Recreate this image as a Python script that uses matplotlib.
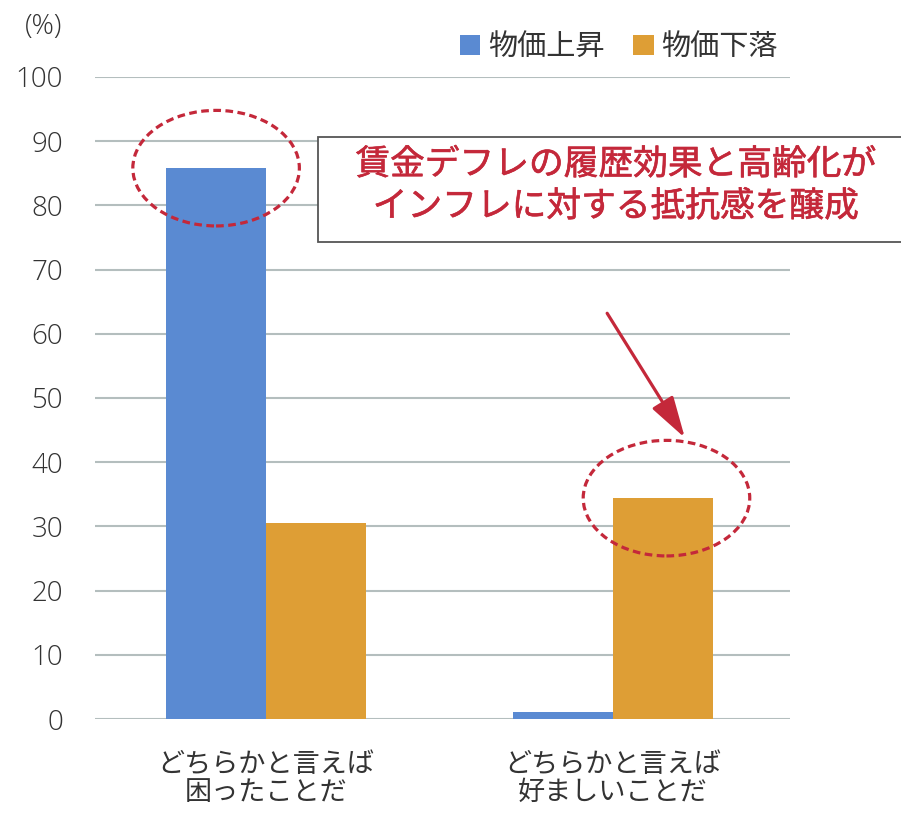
import matplotlib
matplotlib.use('Agg')
import matplotlib.pyplot as plt
import matplotlib.patheffects as pe
from matplotlib.patches import Ellipse, Rectangle, Patch
import numpy as np

plt.rcParams['font.family'] = ['Noto Sans CJK JP', 'DejaVu Sans']

# data
categories = ['どちらかと言えば\n困ったことだ', 'どちらかと言えば\n好ましいことだ']
series_names = ['物価上昇', '物価下落']
rise_values = [85.8, 1.1]
fall_values = [30.5, 34.4]
y_ticks = [0, 10, 20, 30, 40, 50, 60, 70, 80, 90, 100]
callout_lines = ['賃金デフレの履歴効果と高齢化が', 'インフレに対する抵抗感を醸成']
unit_label = '(%)'

BLUE = '#5a8ad2'
ORANGE = '#de9e35'
RED = '#c4283a'
TEXT = '#333333'
GRID = '#b4bebe'

W, H = 901, 814
fig = plt.figure(figsize=(W / 100, H / 100), dpi=100)
ax = fig.add_axes([95 / W, 1 - 719 / H, (790 - 95) / W, (719 - 77) / H])

x = np.arange(len(categories))
bw = 0.288
ax.bar(x - bw / 2, rise_values, bw, color=BLUE, zorder=2)
ax.bar(x + bw / 2, fall_values, bw, color=ORANGE, zorder=2)

ax.set_ylim(0, 100)
ax.set_xlim(-0.493, 1.51)
ax.set_yticks(y_ticks)
ax.yaxis.grid(True, color=GRID, lw=1.5)
ax.set_axisbelow(True)
for s in ax.spines.values():
    s.set_visible(False)
ax.tick_params(axis='y', length=0, colors=TEXT, pad=23)
for lbl in ax.get_yticklabels():
    lbl.set_fontfamily(['Open Sans', 'DejaVu Sans'])
    lbl.set_fontweight('light')
    lbl.set_fontsize(20)
ax.set_xticks(x)
ax.set_xticklabels(categories, fontsize=19.5, color=TEXT, linespacing=1.05)
ax.tick_params(axis='x', length=0, pad=23)

# dashed ellipses highlighting the first rise bar and second fall bar
ell_w, ell_h = 0.48, 18.0
for cx, cy in [(x[0] - bw / 2, rise_values[0]), (x[1] + bw / 2 + 0.01, fall_values[1])]:
    ax.add_patch(Ellipse((cx, cy), ell_w, ell_h, fill=False, edgecolor=RED,
                         lw=2.3, linestyle=(0, (2.4, 1.4)), zorder=4, clip_on=False))

# arrow pointing to the highlighted fall bar
tip = (1.207, fall_values[1] + ell_h / 2 + 0.4)
ax.annotate('', xy=tip, xytext=(0.983, 63.2),
            arrowprops=dict(arrowstyle='-|>,head_length=0.85,head_width=0.25',
                            color=RED, lw=2.3, mutation_scale=30,
                            shrinkA=0, shrinkB=0),
            annotation_clip=False, zorder=5)

# callout box
fig.patches.append(Rectangle((318 / W, 1 - 242 / H), (910 - 318) / W, (242 - 137) / H,
                             transform=fig.transFigure, facecolor='white',
                             edgecolor='#555555', lw=1.3, zorder=6))
for i, line in enumerate(callout_lines):
    fig.text(616 / W, 1 - (165 + 42 * i) / H, line, ha='center', va='center',
             fontsize=25, color=RED, fontweight='normal', zorder=7,
             path_effects=[pe.withStroke(linewidth=0.45, foreground=RED)])

fig.text(44 / W, 1 - 27 / H, unit_label, ha='center', va='center', fontsize=20,
         color=TEXT, family=['Open Sans', 'DejaVu Sans'], fontweight='light')

handles = [Patch(facecolor=BLUE, edgecolor='none'), Patch(facecolor=ORANGE, edgecolor='none')]
fig.legend(handles, series_names, loc='center left', bbox_to_anchor=(460 / W, 1 - 47 / H),
           ncol=2, frameon=False, fontsize=21, handlelength=0.7, handleheight=0.7,
           handletextpad=0.25, columnspacing=1.0, borderpad=0, borderaxespad=0,
           labelcolor=TEXT)

fig.savefig('out.png', dpi=100, facecolor='white')
